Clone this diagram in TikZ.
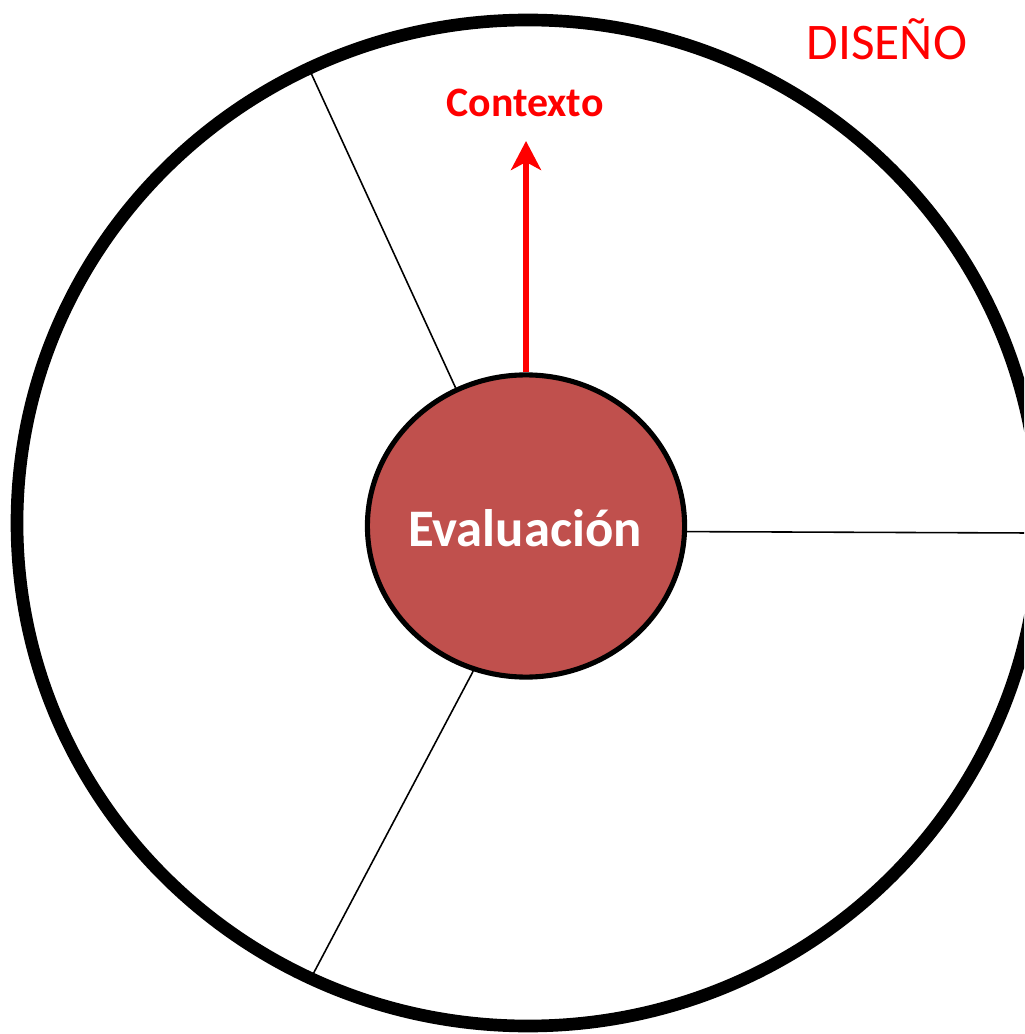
\documentclass[tikz,border=0pt]{standalone}
\usepackage{fontspec}
\setmainfont{Carlito}
\definecolor{EvalRed}{rgb}{0.753,0.314,0.302}
\definecolor{PureRed}{rgb}{1,0,0}
\usepackage{tikz}
\usetikzlibrary{arrows.meta, shapes.geometric, positioning}

\begin{document}
\begin{tikzpicture}[x=0.01cm, y=-0.01cm,
    spoke/.style={black, line width=0.45pt},
    redlabel/.style={text=PureRed, inner sep=0pt, anchor=base}]
    \useasboundingbox (0,0) rectangle (1024,1034);
    \clip (0,0) rectangle (1024,1034);
    % outer ring
    \draw[line width=3.6pt] (528,523) ellipse [x radius=511, y radius=503];
    % centre
    \node[ellipse, draw, line width=1.45pt, fill=EvalRed, inner sep=0pt,
          minimum width=3.17cm, minimum height=3.02cm] (eval) at (526,526) {};
    \node[text=white, inner sep=0pt, anchor=base, font=\bfseries\fontsize{15}{17}\selectfont]
          (evaltxt) at (525,546) {Evaluación};
    % spokes
    \coordinate (spokeA) at (311,73);
    \coordinate (spokeB) at (1030,533);
    \coordinate (spokeC) at (311,978);
    \draw[spoke] (eval.117.8) -- (spokeA);
    \draw[spoke] (eval.-2.6) -- (spokeB);
    \draw[spoke] (eval.250) -- (spokeC);
    % arrow up
    \coordinate (tip) at (526,141);
    \draw[PureRed, line width=1.45pt, -{Stealth[length=0.29cm, width=0.30cm, inset=0.08cm]}]
          (eval.north) -- (tip);
    \node[redlabel, font=\bfseries\fontsize{11.9}{14}\selectfont] (ctx) at (525,117) {Contexto};
    \node[redlabel, font=\fontsize{14.6}{17}\selectfont] (diseno) at (887,60) {DISEÑO};
\end{tikzpicture}
\end{document}
